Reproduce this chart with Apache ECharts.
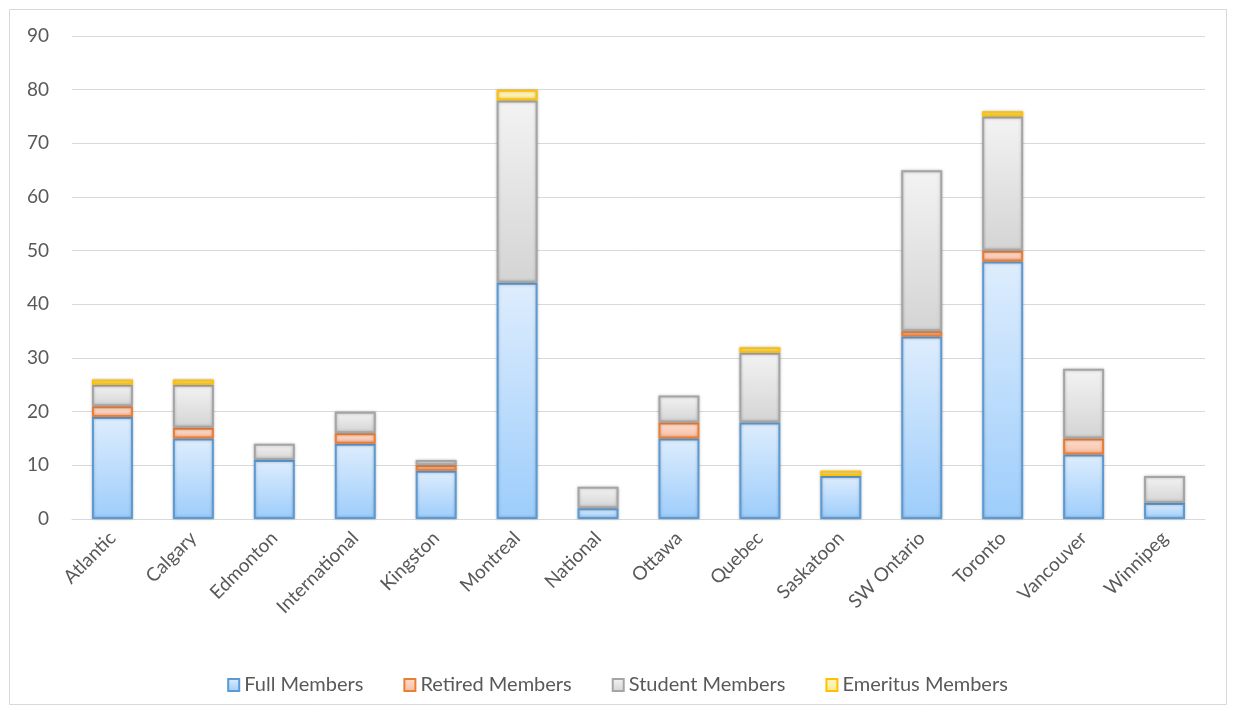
<!DOCTYPE html>
<html><head><meta charset="utf-8">
<script src="https://cdn.jsdelivr.net/npm/echarts@6/dist/echarts.min.js"></script>
<style>html,body{margin:0;padding:0;background:#fff}#c{width:1235px;height:713px}</style>
</head><body><div id="c"></div>
<script>
const categories = ["Atlantic","Calgary","Edmonton","International","Kingston","Montreal","National","Ottawa","Quebec","Saskatoon","SW Ontario","Toronto","Vancouver","Winnipeg"];
const fullMembers     = [19,15,11,14,9,44,2,15,18,8,34,48,12,3];
const retiredMembers  = [2,2,0,2,1,0,0,3,0,0,1,2,3,0];
const studentMembers  = [4,8,3,4,1,34,4,5,13,0,30,25,13,5];
const emeritusMembers = [1,1,0,0,0,2,0,0,1,1,0,1,0,0];
const yTicks = {min:0,max:90,interval:10};

function grad(top,bottom){return new echarts.graphic.LinearGradient(0,0,0,1,[{offset:0,color:top},{offset:1,color:bottom}]);}
const styles = [
  {name:'Full Members',data:fullMembers,fill:grad('#deedfd','#9dcdfb'),border:'#5b9bd5'},
  {name:'Retired Members',data:retiredMembers,fill:grad('#fde0d3','#f9bca0'),border:'#ed7d31'},
  {name:'Student Members',data:studentMembers,fill:grad('#f3f3f3','#d4d4d4'),border:'#a5a5a5'},
  {name:'Emeritus Members',data:emeritusMembers,fill:grad('#fff8d0','#ffe98a'),border:'#ffc000'}
];
const chart = echarts.init(document.getElementById('c'));
chart.setOption({
  animation:false,
  textStyle:{fontFamily:'Lato'},
  graphic:[{type:'rect',shape:{x:9.5,y:9.5,width:1217,height:695},style:{fill:'none',stroke:'#d9d9d9',lineWidth:1},silent:true,z:-1}],
  grid:{left:72,right:30,top:36,bottom:194,containLabel:false},
  legend:{bottom:13,left:'center',icon:'rect',itemWidth:11,itemHeight:12,itemGap:40,
    textStyle:{color:'#595959',fontSize:20,fontFamily:'Lato'},
    data:styles.map(s=>s.name)},
  xAxis:{type:'category',data:categories,
    axisLine:{show:true,lineStyle:{color:'#d9d9d9',width:1}},
    axisTick:{show:false},
    axisLabel:{rotate:45,color:'#595959',fontSize:19,interval:0,margin:16}},
  yAxis:{type:'value',min:yTicks.min,max:yTicks.max,interval:yTicks.interval,
    axisLine:{show:false},axisTick:{show:false},
    axisLabel:{color:'#595959',fontSize:19,margin:23},
    splitLine:{lineStyle:{color:'#d9d9d9',width:1}}},
  series:styles.map(s=>({
    name:s.name,type:'bar',stack:'total',barWidth:41,
    data:s.data.map(v=>v===0?null:v),
    itemStyle:{color:s.fill,borderColor:s.border,borderWidth:2,shadowBlur:3,shadowColor:'rgba(0,0,0,0.25)'}
  }))
});
</script></body></html>
